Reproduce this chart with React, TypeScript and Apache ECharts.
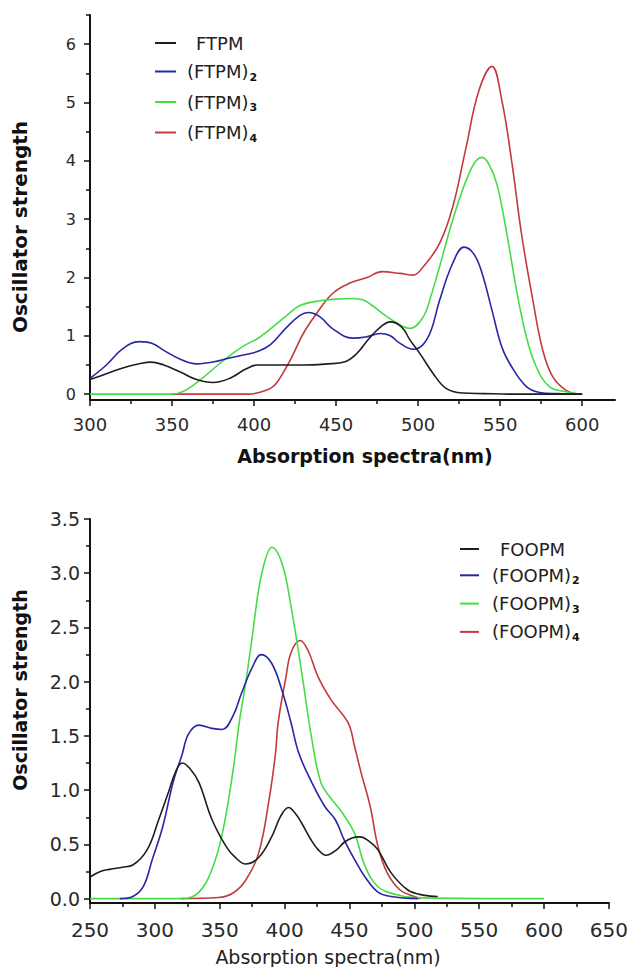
import React, { useEffect, useRef } from 'react';
import * as echarts from 'echarts';

// ---------- Top chart (FTPM) ----------
const ftpm: [number, number][] = [
  [300, 0.25], [310, 0.35], [320, 0.45], [330, 0.52], [337, 0.55], [345, 0.5], [355, 0.38], [365, 0.25],
  [375, 0.2], [385, 0.27], [395, 0.43], [402, 0.5], [415, 0.5], [430, 0.5], [445, 0.52], [455, 0.55],
  [462, 0.68], [470, 0.95], [477, 1.15], [483, 1.24], [490, 1.15], [495, 0.93], [501, 0.7], [509, 0.36],
  [517, 0.1], [527, 0.02], [540, 0.01], [560, 0], [600, 0],
];
const ftpm2: [number, number][] = [
  [300, 0.27], [310, 0.5], [320, 0.78], [330, 0.9], [338, 0.87], [345, 0.75], [355, 0.6], [365, 0.52],
  [375, 0.55], [385, 0.62], [395, 0.68], [402, 0.73], [410, 0.85], [420, 1.15], [428, 1.35], [433, 1.4],
  [440, 1.33], [448, 1.12], [460, 0.96], [468, 0.98], [477, 1.04], [483, 1.0], [489, 0.87], [497, 0.77],
  [503, 0.85], [508, 1.1], [513, 1.6], [521, 2.24], [528, 2.52], [534, 2.4], [539, 2.07], [545, 1.44],
  [551, 0.81], [557, 0.47], [566, 0.13], [574, 0.03], [585, 0.01], [600, 0],
];
const ftpm3: [number, number][] = [
  [300, 0], [350, 0], [357, 0.05], [367, 0.24], [378, 0.5], [387, 0.7], [395, 0.85], [402, 0.95],
  [410, 1.12], [420, 1.35], [428, 1.52], [440, 1.6], [450, 1.63], [458, 1.64], [466, 1.62], [472, 1.52],
  [478, 1.39], [487, 1.22], [495, 1.13], [503, 1.32], [508, 1.7], [513, 2.18], [523, 3.16], [533, 3.9],
  [539, 4.06], [543, 3.95], [548, 3.6], [554, 2.76], [560, 1.78], [566, 0.98], [572, 0.47], [580, 0.13],
  [590, 0.04], [598, 0],
];
const ftpm4: [number, number][] = [
  [350, 0], [397, 0], [403, 0.03], [410, 0.1], [414, 0.2], [422, 0.58], [430, 1.04], [438, 1.38],
  [448, 1.73], [458, 1.9], [469, 2.0], [478, 2.1], [489, 2.07], [497, 2.04], [503, 2.18], [513, 2.58],
  [521, 3.2], [529, 4.2], [537, 5.2], [545, 5.62], [551, 5.04], [557, 4.0], [563, 2.75], [570, 1.6],
  [576, 0.75], [582, 0.3], [590, 0.07], [598, 0],
];

// ---------- Bottom chart (FOOPM) ----------
const foopm: [number, number][] = [
  [250, 0.2], [258, 0.25], [265, 0.27], [275, 0.29], [283, 0.31], [294, 0.45], [303, 0.73], [311, 1.0],
  [316, 1.17], [321, 1.25], [327, 1.2], [334, 1.07], [344, 0.73], [355, 0.48], [362, 0.38], [370, 0.32],
  [380, 0.38], [390, 0.57], [397, 0.76], [403, 0.84], [408, 0.79], [413, 0.7], [420, 0.55], [426, 0.45],
  [432, 0.4], [440, 0.45], [446, 0.52], [452, 0.56], [458, 0.57], [465, 0.53], [472, 0.45], [482, 0.24],
  [495, 0.08], [508, 0.03], [518, 0.02],
];
const foopm2: [number, number][] = [
  [273, 0], [283, 0.02], [291, 0.11], [298, 0.36], [306, 0.66], [314, 1.07], [321, 1.33], [326, 1.52],
  [334, 1.6], [344, 1.57], [352, 1.56], [360, 1.68], [367, 1.9], [375, 2.13], [382, 2.25], [390, 2.17],
  [398, 1.92], [405, 1.62], [411, 1.34], [421, 1.07], [431, 0.85], [439, 0.73], [446, 0.54], [454, 0.36],
  [462, 0.2], [472, 0.06], [482, 0.02], [503, 0],
];
const foopm3: [number, number][] = [
  [250, 0], [322, 0], [334, 0.06], [344, 0.27], [352, 0.6], [360, 1.16], [365, 1.62], [370, 1.99],
  [375, 2.41], [380, 2.85], [385, 3.12], [390, 3.24], [398, 3.09], [405, 2.69], [413, 2.1], [421, 1.47],
  [428, 1.07], [436, 0.92], [444, 0.8], [454, 0.6], [462, 0.3], [472, 0.11], [485, 0.04], [500, 0.01],
  [600, 0],
];
const foopm4: [number, number][] = [
  [320, 0], [349, 0.01], [360, 0.05], [370, 0.17], [380, 0.42], [388, 0.91], [393, 1.34], [395, 1.62],
  [401, 2.04], [405, 2.27], [412, 2.38], [418, 2.29], [426, 2.04], [436, 1.83], [449, 1.62], [454, 1.4],
  [459, 1.16], [466, 0.85], [472, 0.48], [479, 0.24], [489, 0.08], [500, 0.02], [505, 0],
];

// ---------- Tick labels ----------
const topXTicks = [300, 350, 400, 450, 500, 550, 600];
const topXMinor = [325, 375, 425, 475, 525, 575];
const topYTicks = [0, 1, 2, 3, 4, 5, 6];
const topYMinor = [0.5, 1.5, 2.5, 3.5, 4.5, 5.5, 6.5];
const botXTicks = [250, 300, 350, 400, 450, 500, 550, 600, 650];
const botXMinor = [275, 325, 375, 425, 475, 525, 575, 625];
const botYTicks = [0, 0.5, 1, 1.5, 2, 2.5, 3, 3.5];
const botYMinor = [0.25, 0.75, 1.25, 1.75, 2.25, 2.75, 3.25];

const topNames = ['FTPM', '(FTPM)2', '(FTPM)3', '(FTPM)4'];
const botNames = ['FOOPM', '(FOOPM)2', '(FOOPM)3', '(FOOPM)4'];
const colors = ['#1e1e1e', '#2626a6', '#46dc46', '#c23a3e'];

const FONT = 'DejaVu Sans';

function mainAxis(kind: 'x' | 'y', grid: number, min: number, max: number, ticks: number[], fontSize: number, margin: number, fmt?: (v: number) => string) {
  return {
    type: 'value',
    gridIndex: grid,
    min,
    max,
    position: kind === 'x' ? 'bottom' : 'left',
    axisLine: { show: true, onZero: false, lineStyle: { color: '#111', width: 2 } },
    axisTick: { show: true, customValues: ticks, length: 6, lineStyle: { color: '#111', width: 1.5 } },
    axisLabel: {
      show: true,
      customValues: ticks,
      fontSize,
      fontFamily: FONT,
      color: '#2a2a2a',
      margin,
      formatter: fmt ? (v: number) => fmt(v) : (v: number) => String(v),
    },
    splitLine: { show: false },
  };
}

function minorAxis(kind: 'x' | 'y', grid: number, min: number, max: number, ticks: number[]) {
  return {
    type: 'value',
    gridIndex: grid,
    min,
    max,
    position: kind === 'x' ? 'bottom' : 'left',
    axisLine: { show: false, onZero: false },
    axisTick: { show: true, customValues: ticks, length: 4, lineStyle: { color: '#111', width: 1.5 } },
    axisLabel: { show: false, customValues: ticks },
    splitLine: { show: false },
  };
}

function legendFormatter(first: string) {
  return (name: string) => {
    if (name === first) return `{f|${name}}`;
    const base = name.slice(0, -1);
    const sub = name.slice(-1);
    return `{a|${base}}{s|${sub}}`;
  };
}

function legendRich(padFirst: number, padOther: number) {
  return {
    f: { fontSize: 18, fontFamily: FONT, color: '#222', lineHeight: 22, padding: [0, 0, 0, padFirst] },
    a: { fontSize: 18, fontFamily: FONT, color: '#222', lineHeight: 22, padding: [0, 0, 0, padOther] },
    s: { fontSize: 11, fontFamily: FONT, fontWeight: 'bold', color: '#111', lineHeight: 10, verticalAlign: 'bottom', padding: [0, 0, 0, 1] },
  };
}

export default function App() {
  const ref = useRef<HTMLDivElement>(null);
  useEffect(() => {
    if (!ref.current) return;
    const chart = echarts.init(ref.current, null, { renderer: 'svg' });
    const mk = (name: string, data: [number, number][], i: number, axis: number) => ({
      type: 'line',
      name,
      data,
      xAxisIndex: axis,
      yAxisIndex: axis,
      showSymbol: false,
      symbol: 'none',
      smooth: 0.4,
      color: colors[i],
      lineStyle: { color: colors[i], width: 1.6 },
      z: 10 - i,
    });
    chart.setOption({
      animation: false,
      backgroundColor: '#ffffff',
      grid: [
        { left: 90, top: 15, width: 525, height: 385 },
        { left: 90, top: 519, width: 523, height: 384 },
      ],
      xAxis: [
        mainAxis('x', 0, 300, 620, topXTicks, 18, 15),
        minorAxis('x', 0, 300, 620, topXMinor),
        mainAxis('x', 1, 250, 650, botXTicks, 20, 17),
        minorAxis('x', 1, 250, 650, botXMinor),
      ],
      yAxis: [
        mainAxis('y', 0, -0.1, 6.5, topYTicks, 16, 14),
        minorAxis('y', 0, -0.1, 6.5, topYMinor),
        mainAxis('y', 1, -0.04, 3.5, botYTicks, 19, 10, (v) => v.toFixed(1)),
        minorAxis('y', 1, -0.04, 3.5, botYMinor),
      ],
      legend: [
        {
          data: topNames,
          orient: 'vertical',
          left: 150,
          top: 29,
          itemWidth: 21,
          itemHeight: 2,
          itemGap: 10.5,
          icon: 'rect',
          formatter: legendFormatter('FTPM'),
          textStyle: { rich: legendRich(15, 6) },
        },
        {
          data: botNames,
          orient: 'vertical',
          left: 455,
          top: 535,
          itemWidth: 19,
          itemHeight: 2,
          itemGap: 8.3,
          icon: 'rect',
          formatter: legendFormatter('FOOPM'),
          textStyle: { rich: legendRich(16, 8) },
        },
      ],
      graphic: [
        {
          type: 'text', x: 20, y: 227, rotation: Math.PI / 2,
          style: { text: 'Oscillator strength', font: `bold 20px "${FONT}"`, fill: '#111', align: 'center', verticalAlign: 'middle' },
        },
        {
          type: 'text', x: 365, y: 456,
          style: { text: 'Absorption spectra(nm)', font: `bold 19px "${FONT}"`, fill: '#111', align: 'center', verticalAlign: 'middle' },
        },
        {
          type: 'text', x: 20, y: 690, rotation: Math.PI / 2,
          style: { text: 'Oscillator strength', font: `bold 19px "${FONT}"`, fill: '#111', align: 'center', verticalAlign: 'middle' },
        },
        {
          type: 'text', x: 328, y: 957,
          style: { text: 'Absorption spectra(nm)', font: `19px "${FONT}"`, fill: '#222', align: 'center', verticalAlign: 'middle' },
        },
      ],
      series: [
        mk(topNames[0], ftpm, 0, 0),
        mk(topNames[1], ftpm2, 1, 0),
        mk(topNames[2], ftpm3, 2, 0),
        mk(topNames[3], ftpm4, 3, 0),
        mk(botNames[0], foopm, 0, 2),
        mk(botNames[1], foopm2, 1, 2),
        mk(botNames[2], foopm3, 2, 2),
        mk(botNames[3], foopm4, 3, 2),
      ],
    });
    return () => chart.dispose();
  }, []);
  return <div ref={ref} style={{ position: 'absolute', left: 0, top: 0, width: 631, height: 967 }} />;
}
